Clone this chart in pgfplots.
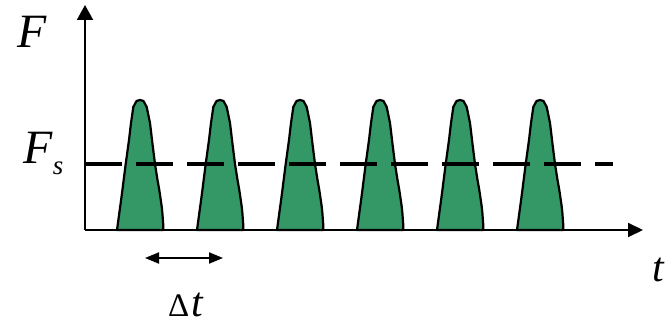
\documentclass[border=0pt]{standalone}
\usepackage{pgfplots}
\pgfplotsset{compat=1.18}
\usepackage{pgfplotstable}
\usepackage{fontspec}
\setmainfont{Liberation Serif}
\usetikzlibrary{arrows.meta}

\definecolor{pulsegreen}{RGB}{52,152,102}

% One force pulse: offset from the pulse centre, force above the baseline
\pgfplotstableread{
dx    h
-23.0   0
-18.5  33
-14.3  66
-11.0  90
-9.0  107
-6.7  123
-3.5  129
0.0   130
3.5   129
6.7   123
10.0  107
12.5   86
15.0   66
17.5   50
19.3   40
21.5   25
22.3   18
23.2    6
23.3    0
}\pulse

\begin{document}
\begin{tikzpicture}
\begin{axis}[
  scale only axis,
  width=672bp, height=320bp,
  xmin=-85, xmax=587,
  ymin=-90, ymax=230,
  axis line style={draw=none},
  ticks=none,
  clip=false,
]
% pulses, one every 80 time units
\foreach \c in {55,135,215,295,375,455} {
  \addplot[draw=black, line width=2.2bp, fill=pulsegreen, line join=round]
    table[x expr=\thisrow{dx}+\c, y=h] {\pulse} -- cycle;
}
% threshold force F_s
\addplot[black, line width=3.3bp, dash pattern=on 37bp off 14bp]
  coordinates {(0,66) (528,66)};
% axes
\addplot[black, line width=2bp, -{Triangle[length=15bp,width=16bp]}]
  coordinates {(0,0) (0,225)};
\addplot[black, line width=2bp, -{Triangle[length=15bp,width=14bp]}]
  coordinates {(0,0) (558,0)};
% pulse spacing
\addplot[black, line width=2bp, {Triangle[length=14bp,width=11bp]}-{Triangle[length=14bp,width=11bp]}]
  coordinates {(60,-28) (138,-28)};

\node[anchor=base west, inner sep=0pt, font=\fontsize{48}{56}\selectfont\itshape]
  at (axis cs:-68,183) {F};
\node[anchor=base west, inner sep=0pt, font=\fontsize{48}{56}\selectfont]
  at (axis cs:-62,67) {\textit{F}\raisebox{-12bp}{\fontsize{27}{30}\selectfont\textit{s}}};
\node[anchor=base west, inner sep=0pt, font=\fontsize{42}{50}\selectfont\itshape]
  at (axis cs:567,-51) {t};
\node[anchor=base west, inner sep=0pt]
  at (axis cs:83,-86) {\fontsize{33}{40}\selectfont Δ\hspace{2bp}\fontsize{42}{50}\selectfont\textit{t}};
\end{axis}
\end{tikzpicture}
\end{document}
